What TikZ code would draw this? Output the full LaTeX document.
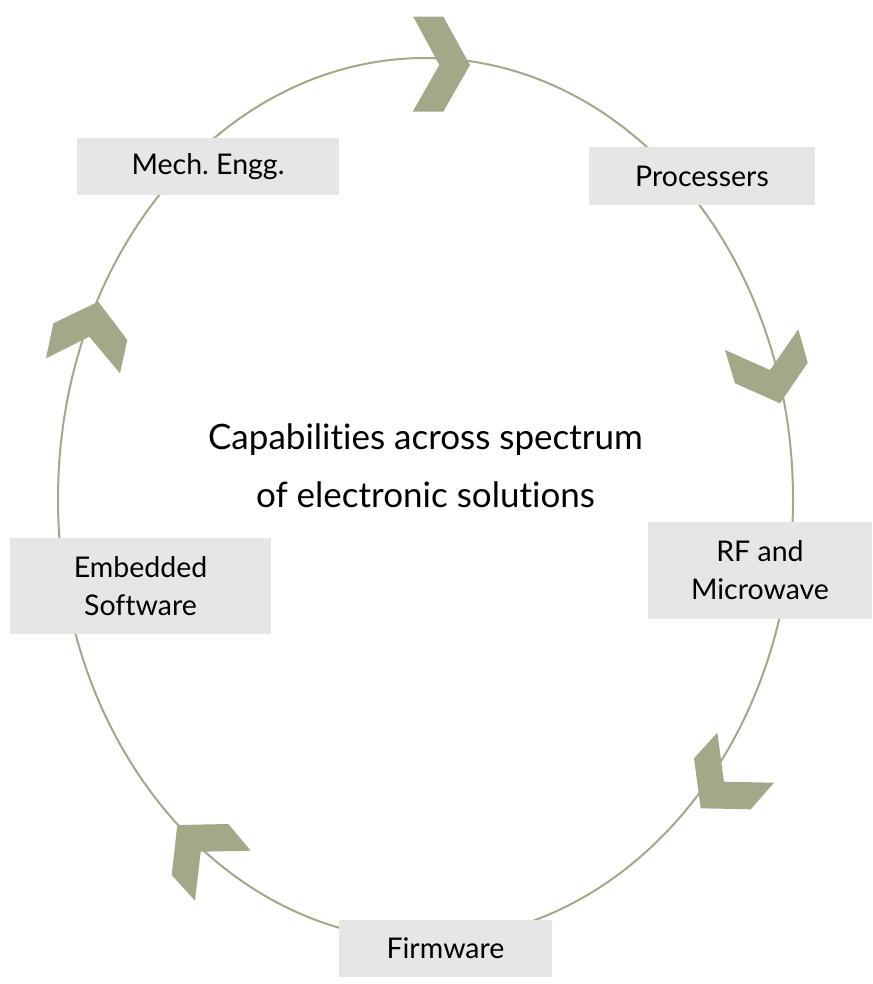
\documentclass[tikz,border=0pt]{standalone}
\usepackage{fontspec}
\setmainfont{Lato}[Ligatures={NoCommon,NoRequired,NoContextual}]
\frenchspacing
\definecolor{olive}{RGB}{162,168,136}
\definecolor{boxgray}{RGB}{231,230,230}
\begin{document}
\begin{tikzpicture}[x=1pt,y=-1pt,
  lbl/.style={fill=boxgray,inner sep=0pt,align=center,font=\fontsize{28.5}{38}\selectfont},
  chev/.style={fill=olive,draw=none}]
\useasboundingbox (0,0) rectangle (872,984);
\draw[olive,line width=2pt] (425.5,499) ellipse [x radius=367.5, y radius=441];
% boxes
\node[lbl,minimum width=262,minimum height=57] (mech) at (208,166.5) {Mech. Engg.};
\node[lbl,minimum width=226,minimum height=58] (proc) at (702,176) {Processers};
\node[lbl,minimum width=224,minimum height=97] (rf) at (760,570.5) {RF and\\Microwave};
\node[lbl,minimum width=261,minimum height=96] (emb) at (140.5,586) {Embedded\\Software};
\node[lbl,minimum width=213,minimum height=57] (firm) at (445.5,948.5) {Firmware};
\node[align=center,font=\fontsize{35}{58}\selectfont] (center) at (425.5,466) {Capabilities across spectrum\\of electronic solutions};
% chevrons
\fill[chev] (413.3,16.7) -- (443.3,16.7) -- (470,65) -- (443.3,111.7) -- (412.7,111.7) -- (439.3,65) -- cycle;
\fill[chev] (725,350) -- (770,370) -- (798.3,329.3) -- (807.7,362.7) -- (780,403.3) -- (735,383.3) -- cycle;
\fill[chev] (694,758.3) -- (717.3,732.7) -- (724,781.7) -- (774,782.7) -- (750.7,809.3) -- (700.7,808.3) -- cycle;
\fill[chev] (177.3,825) -- (228.3,824) -- (250.7,850.7) -- (200.7,851.7) -- (195,900.7) -- (171.7,875) -- cycle;
\fill[chev] (53.3,323.3) -- (98.3,301.7) -- (127.3,340) -- (120,373.3) -- (89.3,336.7) -- (46,358.3) -- cycle;
\end{tikzpicture}
\end{document}
